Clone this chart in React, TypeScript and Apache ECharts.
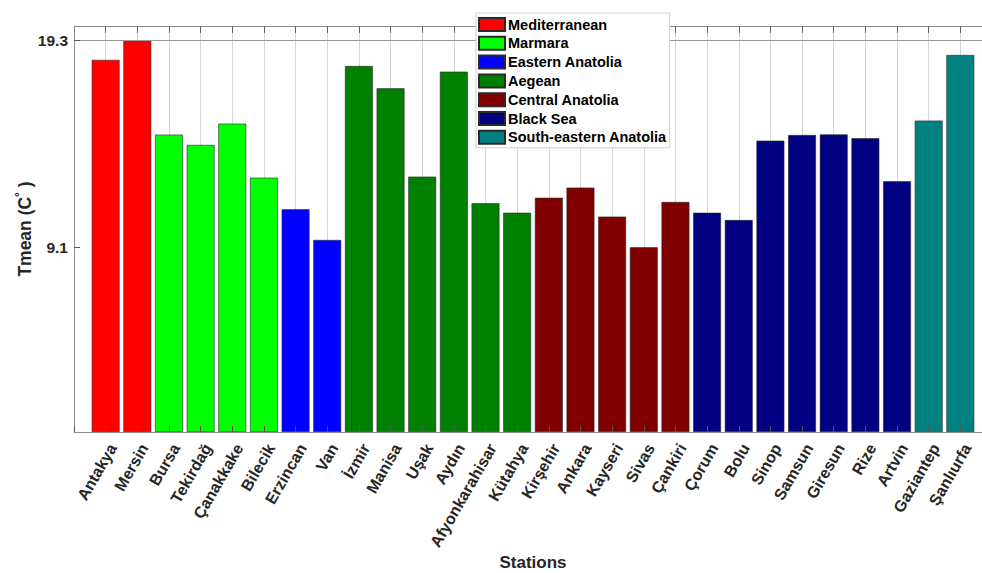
import React, { useEffect, useRef } from "react";
import * as echarts from "echarts";

// Stations in plotting order, with their climate region and mean temperature
const stations = [
  "Antakya", "Mersin", "Bursa", "Tekirdağ", "Çanakkake", "Bilecik", "Erzincan", "Van",
  "İzmir", "Manisa", "Uşak", "Aydın", "Afyonkarahisar", "Kütahya", "Kirşehir", "Ankara",
  "Kayseri", "Sivas", "Çankiri", "Çorum", "Bolu", "Sinop", "Samsun", "Giresun", "Rize",
  "Artvin", "Gaziantep", "Şanlıurfa",
];

const stationRegion = [
  "Mediterranean", "Mediterranean", "Marmara", "Marmara", "Marmara", "Marmara",
  "Eastern Anatolia", "Eastern Anatolia",
  "Aegean", "Aegean", "Aegean", "Aegean", "Aegean", "Aegean",
  "Central Anatolia", "Central Anatolia", "Central Anatolia", "Central Anatolia", "Central Anatolia",
  "Black Sea", "Black Sea", "Black Sea", "Black Sea", "Black Sea", "Black Sea", "Black Sea",
  "South-eastern Anatolia", "South-eastern Anatolia",
];

const tmean = [
  18.33, 19.3, 14.65, 14.14, 15.19, 12.53, 10.97, 9.46,
  18.03, 16.93, 12.58, 17.75, 11.27, 10.8, 11.54, 12.04,
  10.61, 9.1, 11.33, 10.8, 10.44, 14.35, 14.63, 14.66, 14.47,
  12.35, 15.34, 18.57,
];

const regions = [
  "Mediterranean", "Marmara", "Eastern Anatolia", "Aegean",
  "Central Anatolia", "Black Sea", "South-eastern Anatolia",
];
const regionColors = ["#ff0000", "#00ff00", "#0000ff", "#008000", "#800000", "#000080", "#008080"];

const yTicks = [9.1, 19.3];

const FONT = "'Liberation Sans', Arial, Helvetica, sans-serif";
const TEXT = "#262626";

export default function App() {
  const ref = useRef<HTMLDivElement>(null);

  useEffect(() => {
    document.body.style.margin = "0";
    document.body.style.overflow = "hidden";
    if (!ref.current) return;
    const chart = echarts.init(ref.current, null, { renderer: "svg" });

    // blank slots at both ends give the one-slot padding around the bars
    const cats = ["", ...stations, ""];

    const series = regions.map((r, ri) => ({
      name: r,
      type: "bar",
      stack: "all",
      xAxisIndex: 0,
      barWidth: "88%",
      itemStyle: { color: regionColors[ri], borderColor: "#2a2a2a", borderWidth: 0.6 },
      data: cats.map((_, i) =>
        i === 0 || i === cats.length - 1 || stationRegion[i - 1] !== r ? "-" : tmean[i - 1]
      ),
      ...(ri === 0
        ? {
            markLine: {
              silent: true,
              symbol: "none",
              label: { show: false },
              lineStyle: { color: "#9a9a9a", type: "solid", width: 1 },
              data: [{ yAxis: yTicks[1] }],
            },
          }
        : {}),
    }));

    chart.setOption({
      animation: false,
      textStyle: { fontFamily: FONT },
      grid: { left: 74, top: 26, bottom: 141, right: 0, containLabel: false, outerBoundsMode: "none" },
      legend: {
        orient: "vertical",
        left: 476,
        top: 13,
        padding: [4, 3, 3, 2],
        itemGap: 3.8,
        itemWidth: 26,
        itemHeight: 13,
        icon: "rect",
        backgroundColor: "#ffffff",
        borderColor: "#d0d0d0",
        borderWidth: 1,
        z: 20,
        textStyle: { fontFamily: FONT, fontWeight: "bold", fontSize: 14.5, color: "#000", padding: [0, 0, 0, -2] },
        data: regions,
      },
      xAxis: [
        {
          type: "category",
          position: "bottom",
          data: cats,
          boundaryGap: false,
          z: 10,
          axisLine: { show: true, lineStyle: { color: "#8c8c8c", width: 1 } },
          axisTick: { show: true, inside: true, interval: 0, length: 6, lineStyle: { color: "#555" } },
          splitLine: { show: false },
          axisLabel: {
            interval: 0,
            rotate: 60,
            margin: 9,
            verticalAlign: "top",
            fontFamily: FONT,
            fontWeight: "bold",
            fontSize: 16,
            color: TEXT,
          },
          name: "Stations",
          nameLocation: "middle",
          nameGap: 122,
          nameMoveOverlap: false,
          nameTextStyle: { fontFamily: FONT, fontWeight: "bold", fontSize: 17, lineHeight: 17, color: TEXT },
        },
        {
          type: "category",
          position: "top",
          data: cats,
          boundaryGap: false,
          axisLine: { show: true, lineStyle: { color: "#8c8c8c", width: 1 } },
          axisTick: { show: true, inside: true, interval: 0, length: 7, lineStyle: { color: "#666" } },
          axisLabel: { show: false },
          splitLine: { show: true, interval: 0, lineStyle: { color: "#d4d4d4", width: 1 } },
        },
      ],
      yAxis: {
        type: "value",
        min: 0,
        max: 20,
        z: 10,
        axisLine: { show: true, lineStyle: { color: "#8c8c8c", width: 1 } },
        axisTick: { show: true, inside: true, length: 6, customValues: yTicks, lineStyle: { color: "#555" } },
        splitLine: { show: false },
        axisLabel: {
          customValues: yTicks,
          margin: 6,
          fontFamily: FONT,
          fontWeight: "bold",
          fontSize: 15.5,
          color: TEXT,
        },
        name: "Tmean (C{sup|°} )",
        nameLocation: "middle",
        nameGap: 38,
        nameMoveOverlap: false,
        nameTextStyle: {
          fontFamily: FONT,
          fontWeight: "bold",
          fontSize: 17.5,
          color: TEXT,
          rich: {
            sup: { fontFamily: FONT, fontSize: 12, color: TEXT, padding: [0, 0, 10, 0] },
          },
        },
      },
      series,
    });

    return () => chart.dispose();
  }, []);

  return (
    <div style={{ position: "absolute", left: 0, top: 0, width: 982, height: 573, overflow: "hidden", background: "#fff" }}>
      <div ref={ref} style={{ width: 992, height: 573 }} />
    </div>
  );
}
